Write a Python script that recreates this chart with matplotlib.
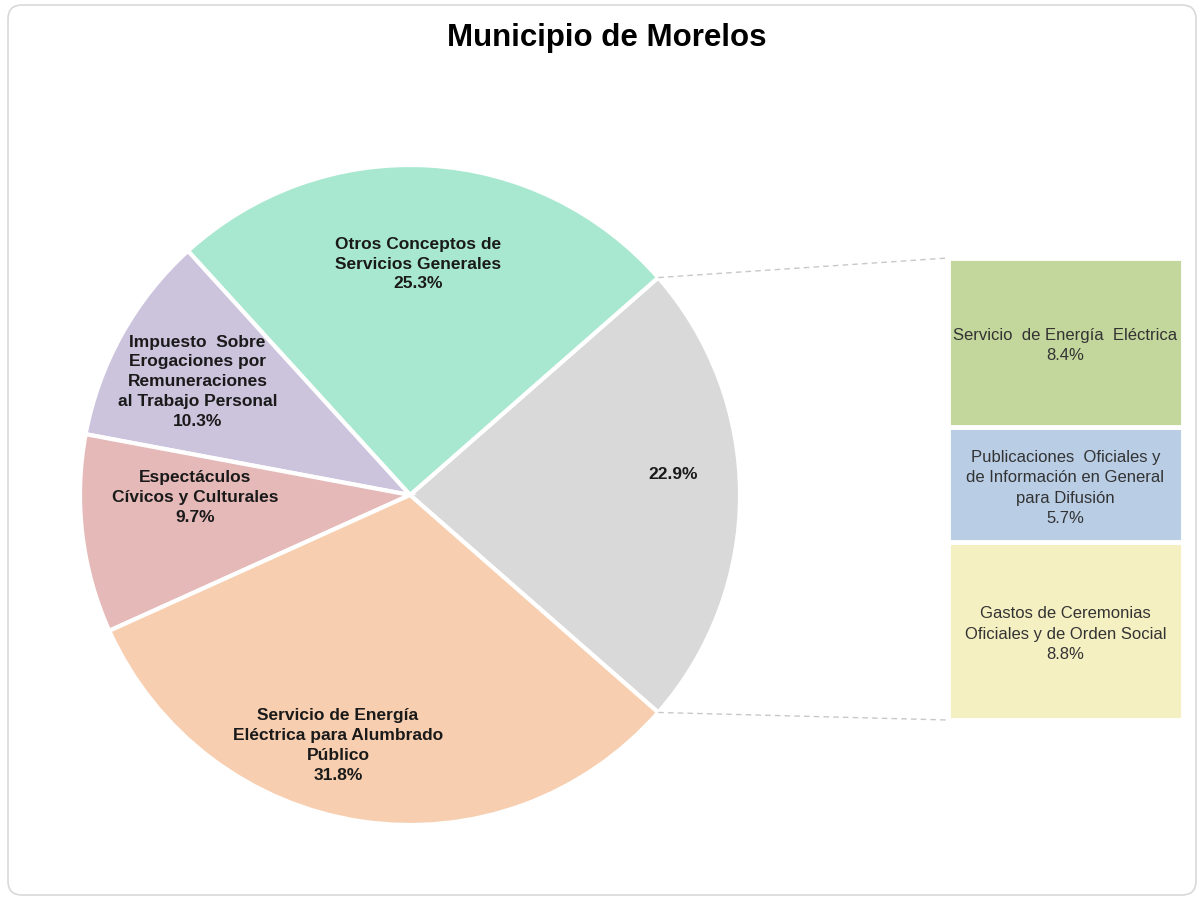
import matplotlib.pyplot as plt
from matplotlib.patches import FancyBboxPatch
import numpy as np

plt.rcParams['font.family'] = ['Liberation Sans', 'DejaVu Sans']

titulo = "Municipio de Morelos"

# pie slices, starting with the grey "other" slice and going counterclockwise
pie_labels = ["", "Otros Conceptos de\nServicios Generales",
              "Impuesto  Sobre\nErogaciones por\nRemuneraciones\nal Trabajo Personal",
              "Espectáculos\nCívicos y Culturales",
              "Servicio de Energía\nEléctrica para Alumbrado\nPúblico"]
pie_values = [22.9, 25.3, 10.3, 9.7, 31.8]
pie_colors = ["#d9d9d9", "#a9e8d0", "#ccc3dd", "#e6b9b9", "#f7cfb0"]
label_dist = [0.80, 0.70, 0.73, 0.65, 0.79]
label_shift = [4.5, 1.2, 1.1, -6.2, -7.6]   # degrees off the slice middle

# breakdown of the grey slice, bottom to top
bar_labels = ["Gastos de Ceremonias\nOficiales y de Orden Social",
              "Publicaciones  Oficiales y\nde Información en General\npara Difusión",
              "Servicio  de Energía  Eléctrica"]
bar_values = [8.8, 5.7, 8.4]
bar_colors = ["#f5f0c2", "#b9cde5", "#c3d69b"]

fig = plt.figure(figsize=(12.04, 9), dpi=100)
ax = fig.add_axes([0, 0, 1, 1])

cx, cy, r = 410, 405, 330
wedges, _ = ax.pie(pie_values, colors=pie_colors, startangle=-pie_values[0] / 100 * 180,
                   counterclock=True, center=(cx, cy), radius=r,
                   explode=[0.03, 0, 0, 0, 0],
                   wedgeprops=dict(edgecolor="white", linewidth=3))

for w, lab, v, d, s in zip(wedges, pie_labels, pie_values, label_dist, label_shift):
    mid = np.deg2rad((w.theta1 + w.theta2) / 2 + s)
    wx, wy = w.center
    txt = (lab + "\n" if lab else "") + f"{v}%"
    ax.text(wx + d * r * np.cos(mid), wy + d * r * np.sin(mid), txt,
            ha="center", va="center", fontsize=12.5, fontweight="bold",
            color="#1a1a1a", linespacing=1.4)

# stacked bar for the grey slice
bx, bw = 948, 235
scale = 462 / sum(bar_values)
bottom = 180
for lab, v, c in zip(bar_labels, bar_values, bar_colors):
    h = v * scale
    ax.bar(bx + bw / 2, h, width=bw, bottom=bottom, color=c,
           edgecolor="white", linewidth=3.5)
    ax.text(bx + bw / 2, bottom + h / 2 - 3, f"{lab}\n{v}%", ha="center", va="center",
            fontsize=12, color="#333333", linespacing=1.45)
    bottom += h

# connector lines from the grey slice to the bar
g = wedges[0]
gx, gy = g.center
for th, yb in [(g.theta2, bottom), (g.theta1, 180)]:
    t = np.deg2rad(th)
    ax.plot([gx + r * np.cos(t), bx], [gy + r * np.sin(t), yb],
            color="#c8c8c8", linestyle=(0, (4, 3)), linewidth=1)

ax.add_patch(FancyBboxPatch((8, 5), 1188, 890, boxstyle="round,pad=0,rounding_size=14",
                            facecolor="none", edgecolor="#d9d9d9", linewidth=1.2))

ax.text(607, 862, titulo, ha="center", va="center", fontsize=22.5, fontweight="bold")

ax.set_xlim(0, 1204)
ax.set_ylim(0, 900)
ax.set_aspect("equal")
ax.axis("off")

fig.savefig("out.png", dpi=100, facecolor="white")
